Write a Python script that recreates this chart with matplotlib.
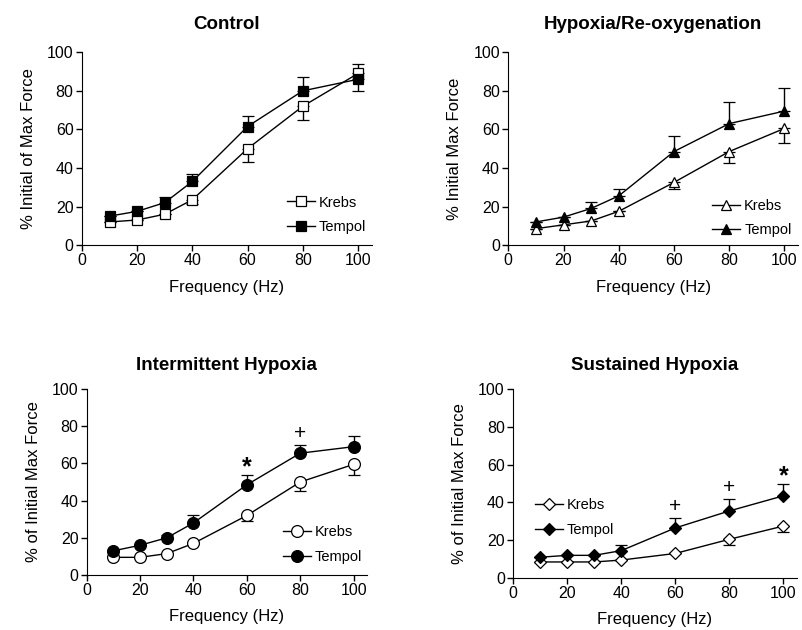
import matplotlib
matplotlib.use("Agg")
import matplotlib.pyplot as plt
from matplotlib.lines import Line2D

plt.rcParams['font.family'] = ['Liberation Sans', 'DejaVu Sans']

freq = [10, 20, 30, 40, 60, 80, 100]

# Control
ctrl_krebs = [12, 13, 16, 23.5, 50, 72, 89]
ctrl_krebs_lo = [0, 0, 0, 2, 7, 7, 0]
ctrl_krebs_hi = [0, 0, 0, 0, 0, 0, 5]
ctrl_tempol = [15, 17.5, 22, 33, 61.5, 80, 86]
ctrl_tempol_lo = [0, 0, 0, 0, 0, 0, 6]
ctrl_tempol_hi = [0, 0, 3, 4, 5.5, 7, 0]

# Hypoxia / re-oxygenation
hr_krebs = [8.5, 10.5, 12.5, 17.5, 32.5, 48.5, 60.5]
hr_krebs_lo = [0, 0, 0, 0, 3.5, 6, 7.5]
hr_tempol = [12, 14.5, 19, 25.5, 48.5, 63, 69.5]
hr_tempol_hi = [0, 0, 3.5, 3.5, 8, 11, 12]

# Intermittent hypoxia
ih_krebs = [9.5, 9.5, 11.5, 17, 32, 50, 59.5]
ih_krebs_lo = [0, 0, 0, 0, 3, 5, 5.5]
ih_tempol = [13, 16, 20, 28, 48.5, 65.5, 69]
ih_tempol_hi = [0, 0, 1.5, 4.5, 5.5, 4.5, 5.5]

# Sustained hypoxia
sh_krebs = [8.5, 8.5, 8.5, 9.5, 13, 20.5, 27.5]
sh_krebs_lo = [0, 0, 0, 0, 0, 3, 3]
sh_tempol = [11, 12, 12, 14.5, 26.5, 35.5, 43.5]
sh_tempol_hi = [0, 0, 0, 3, 5.5, 6.5, 6.5]

zeros = [0] * 7

fig = plt.figure(figsize=(8.03, 6.3), dpi=100)

panels = [
    dict(pos=[0.102, 0.611, 0.361, 0.306], title="Control", tpad=17,
         ylabel="% Initial of Max Force", marker="s", ms=7.5,
         k=ctrl_krebs, klo=ctrl_krebs_lo, khi=ctrl_krebs_hi,
         t=ctrl_tempol, tlo=ctrl_tempol_lo, thi=ctrl_tempol_hi,
         leg_loc=(0.707, 0.158), marks=[]),
    dict(pos=[0.633, 0.611, 0.361, 0.306], title="Hypoxia/Re-oxygenation", tpad=17,
         ylabel="% Initial Max Force", marker="^", ms=7,
         k=hr_krebs, klo=hr_krebs_lo, khi=zeros,
         t=hr_tempol, tlo=zeros, thi=hr_tempol_hi,
         leg_loc=(0.703, 0.14), marks=[]),
    dict(pos=[0.108, 0.0873, 0.349, 0.2952], title="Intermittent Hypoxia", tpad=14,
         ylabel="% of Initial Max Force", marker="o", ms=8.5,
         k=ih_krebs, klo=ih_krebs_lo, khi=zeros,
         t=ih_tempol, tlo=zeros, thi=ih_tempol_hi,
         leg_loc=(0.70, 0.164), marks=[(60, 58, "*"), (80, 76, "+")]),
    dict(pos=[0.639, 0.0825, 0.3535, 0.30], title="Sustained Hypoxia", tpad=14,
         ylabel="% of Initial Max Force", marker="D", ms=6.5,
         k=sh_krebs, klo=sh_krebs_lo, khi=zeros,
         t=sh_tempol, tlo=zeros, thi=sh_tempol_hi,
         leg_loc=(0.077, 0.32), marks=[(60, 38, "+"), (80, 48, "+"), (100, 54, "*")]),
]

for p in panels:
    ax = fig.add_axes(p["pos"])
    ax.errorbar(freq, p["k"], yerr=[p["klo"], p["khi"]], color="black",
                marker=p["marker"], ms=p["ms"], mfc="white", mec="black",
                mew=0.9, lw=1, capsize=4, elinewidth=1, capthick=1, zorder=3)
    ax.errorbar(freq, p["t"], yerr=[p["tlo"], p["thi"]], color="black",
                marker=p["marker"], ms=p["ms"], mfc="black", mec="black",
                mew=0.9, lw=1, capsize=4, elinewidth=1, capthick=1, zorder=3)
    for x, y, s in p["marks"]:
        if s == "*":
            ax.text(x, y, s, ha="center", va="center", fontsize=18, fontweight="bold")
        else:
            ax.text(x, y, s, ha="center", va="center", fontsize=15)
    ax.set_xlim(0, 105)
    ax.set_ylim(0, 100)
    ax.set_xticks([0, 20, 40, 60, 80, 100])
    ax.set_yticks([0, 20, 40, 60, 80, 100])
    ax.spines["top"].set_visible(False)
    ax.spines["right"].set_visible(False)
    ax.tick_params(direction="out", length=4, width=1, labelsize=11.5, pad=2)
    ax.set_title(p["title"], fontsize=13.5, fontweight="bold", pad=p["tpad"])
    ax.set_xlabel("Frequency (Hz)", fontsize=12, labelpad=8)
    ax.set_ylabel(p["ylabel"], fontsize=12, labelpad=8)
    handles = [
        Line2D([], [], color="black", lw=1, marker=p["marker"], ms=p["ms"],
               mfc="white", mec="black", mew=0.9),
        Line2D([], [], color="black", lw=1, marker=p["marker"], ms=p["ms"],
               mfc="black", mec="black", mew=0.9),
    ]
    ax.legend(handles, ["Krebs", "Tempol"], loc="center left",
              bbox_to_anchor=p["leg_loc"], frameon=False, fontsize=10.5,
              handlelength=1.9, handletextpad=0.3, labelspacing=0.7,
              borderpad=0, borderaxespad=0)

fig.savefig("out.png", dpi=100)
